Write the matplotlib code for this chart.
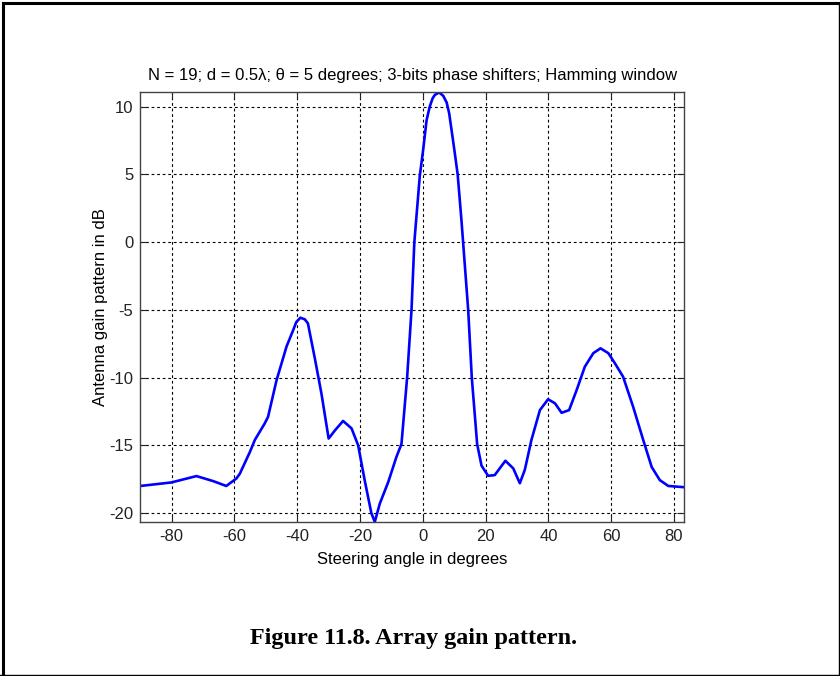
import numpy as np
import matplotlib
matplotlib.use("Agg")
import matplotlib.pyplot as plt
from matplotlib.lines import Line2D

# steering angle (deg) and array gain (dB)
angle = [-90, -80.1, -72.1, -66.8, -62.6, -59.4, -58.3, -55.1, -53.5, -50.4,
         -49.3, -46.6, -43.4, -41.3, -40.3, -39.0, -37.6, -36.6, -34.4, -32.3,
         -30.0, -28.0, -25.4, -22.7, -20.6, -18.5, -16.4, -15.3, -13.7, -11.0,
         -8.4, -6.8, -5.0, -3.6, -2.7, -0.96, 0.1, 1.2, 2.2, 3.1,
         3.8, 5.2, 6.5, 7.6, 8.4, 9.15, 9.9, 11.1, 12.3, 14.45,
         15.6, 17.3, 18.7, 20.8, 22.9, 26.3, 28.8, 30.9, 32.5, 34.6,
         37.3, 39.9, 42.1, 44.2, 46.6, 49.0, 51.6, 54.3, 56.6, 59.1,
         61.2, 63.8, 67.0, 70.2, 72.9, 75.5, 78.2, 83.2]
gain = [-18.0, -17.74, -17.27, -17.64, -18.0, -17.45, -17.1, -15.5, -14.6, -13.4,
        -12.9, -10.2, -7.7, -6.5, -5.9, -5.58, -5.7, -6.0, -8.58, -11.17,
        -14.5, -13.9, -13.2, -13.75, -15.0, -17.6, -20.0, -20.65, -19.3, -17.7,
        -15.85, -14.9, -10.0, -5.0, 0.0, 4.9, 6.8, 9.0, 10.0, 10.6,
        10.86, 11.05, 10.8, 10.3, 9.5, 8.28, 7.05, 5.0, 1.63, -5.0,
        -10.0, -14.9, -16.5, -17.25, -17.2, -16.14, -16.7, -17.8, -16.8, -14.6,
        -12.4, -11.6, -11.9, -12.6, -12.4, -10.92, -9.2, -8.2, -7.84, -8.2,
        -8.95, -9.94, -12.16, -14.6, -16.6, -17.57, -18.0, -18.09]

xticks = [-80, -60, -40, -20, 0, 20, 40, 60, 80]
yticks = [-20, -15, -10, -5, 0, 5, 10]

plt.rcParams['font.family'] = ['Liberation Sans', 'DejaVu Sans']

fig = plt.figure(figsize=(8.4, 6.76), dpi=100)
fig.patch.set_facecolor('white')
ax = fig.add_axes([0.167, 0.2278, 0.8143 - 0.167, 0.8635 - 0.2278])

ax.plot(angle, gain, color='#0000ff', linewidth=1.9)
ax.set_xlim(-90, 83.2)
ax.set_ylim(-20.66, 11.06)
ax.set_xticks(xticks)
ax.set_yticks(yticks)
ax.set_xticklabels([str(t) for t in xticks])
ax.set_yticklabels([str(t) for t in yticks])
ax.grid(True, color='black', linestyle=(0, (2.5, 2.5)), linewidth=0.8)
ax.tick_params(direction='in', length=5, width=0.8, top=True, right=True,
               labelsize=12, pad=5, colors='#222222')
for s in ax.spines.values():
    s.set_color('#444444')
    s.set_linewidth(1.0)

ax.set_title('N = 19; d = 0.5\u03bb; \u03b8 = 5 degrees; 3-bits phase shifters; Hamming window',
             fontsize=12, pad=9)
ax.set_xlabel('Steering angle in degrees', fontsize=12, labelpad=6)
ax.set_ylabel('Antenna gain pattern in dB', fontsize=12, labelpad=1)

fig.text(0.492, 0.056, 'Figure 11.8. Array gain pattern.', ha='center', va='center',
         fontsize=17.4, fontweight='bold', family='Liberation Serif')

# page frame: heavy top/left edges, thin right/bottom
fig.add_artist(Line2D([0.003, 0.003], [0.0, 0.9955], color='black', linewidth=2.2,
                      transform=fig.transFigure))
fig.add_artist(Line2D([0.003, 1.0], [0.9955, 0.9955], color='black', linewidth=2.2,
                      transform=fig.transFigure))
fig.add_artist(Line2D([0.9994, 0.9994], [0.0, 0.996], color='black', linewidth=1.0,
                      transform=fig.transFigure))
fig.add_artist(Line2D([0.0, 1.0], [0.0012, 0.0012], color='black', linewidth=1.0,
                      transform=fig.transFigure))

fig.savefig('out.png', dpi=100)
